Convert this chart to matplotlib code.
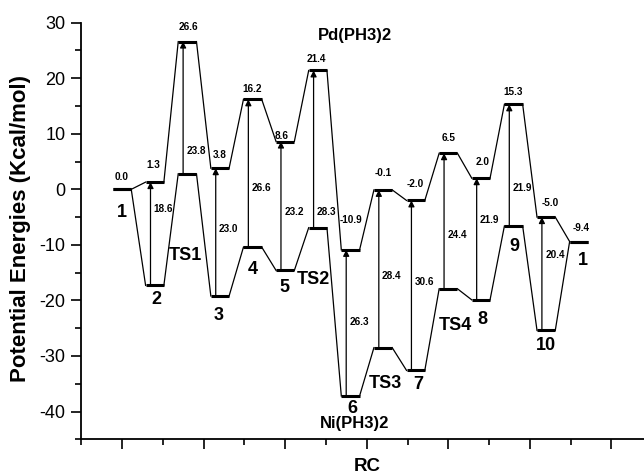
import matplotlib
matplotlib.use("Agg")
import matplotlib.pyplot as plt
from matplotlib.ticker import MultipleLocator

# energies (kcal/mol) of each stationary point, Pd path on top, Ni path below
pd_energy = [0.0, 1.3, 26.6, 3.8, 16.2, 8.6, 21.4, -10.9, -0.1, -2.0, 6.5, 2.0, 15.3, -5.0, -9.4]
ni_energy = [0.0, -17.3, 2.8, -19.2, -10.4, -14.6, -6.9, -37.2, -28.5, -32.6, -17.9, -19.9, -6.6, -25.4, -9.4]
species = ["1", "2", "TS1", "3", "4", "5", "TS2", "6", "TS3", "7", "TS4", "8", "9", "10", "1"]
gap_text = ["18.6", "23.8", "23.0", "26.6", "23.2", "28.3", "26.3", "28.4", "30.6", "24.4", "21.9", "21.9", "20.4"]
pd_text = ["0.0", "1.3", "26.6", "3.8", "16.2", "8.6", "21.4", "-10.9", "-0.1", "-2.0", "6.5", "2.0", "15.3", "-5.0", "-9.4"]

# label placement (layout only)
pd_text_x = [0.0, 0.94, 2.02, 2.98, 3.98, 4.9, 5.97, 7.0, 8.0, 9.0, 10.0, 11.05, 12.0, 13.13, 14.07]
pd_text_y = [2.3, 4.3, 29.2, 6.1, 18.0, 9.6, 23.5, -5.5, 2.9, 0.9, 9.2, 4.9, 17.5, -2.5, -7.0]
gap_text_y = [-3.5, 6.9, -7.1, 0.3, -4.0, -4.0, -23.9, -15.6, -16.6, -8.3, -5.5, 0.3, -11.9]
name_x = [-0.01, 1.04, 1.93, 2.96, 4.01, 4.98, 5.87, 7.06, 8.07, 9.08, 10.21, 11.06, 12.03, 13.0, 14.13]
name_y = [-4.2, -19.8, -11.9, -22.8, -14.4, -17.7, -16.2, -39.4, -34.9, -35.2, -24.5, -23.4, -10.3, -28.2, -12.9]

plt.rcParams['font.family'] = ['Liberation Sans', 'DejaVu Sans']
plt.rcParams['axes.unicode_minus'] = False

fig = plt.figure(figsize=(6.44, 4.76), dpi=100)
ax = fig.add_axes([0.1253, 0.0771, 0.8747, 0.8752])

hw = 0.28
xs = list(range(len(pd_energy)))

for path in (pd_energy, ni_energy):
    for i, e in enumerate(path):
        ax.plot([xs[i] - hw, xs[i] + hw], [e, e], color="k", lw=2.2, solid_capstyle="butt")
        if i + 1 < len(path):
            ax.plot([xs[i] + hw, xs[i + 1] - hw], [e, path[i + 1]], color="k", lw=0.9)

# vertical arrows Ni -> Pd
for k, txt in enumerate(gap_text):
    i = k + 1
    xa = xs[i] - 0.13
    ax.annotate("", xy=(xa, pd_energy[i]), xytext=(xa, ni_energy[i]),
                arrowprops=dict(arrowstyle="-|>", color="k", lw=0.9,
                                mutation_scale=9, shrinkA=0, shrinkB=0))
    ax.text(xa + 0.1, gap_text_y[k], txt, fontsize=7.2, fontweight="bold",
            ha="left", va="center")

for i, txt in enumerate(pd_text):
    ax.text(pd_text_x[i], pd_text_y[i], txt, fontsize=7.2, fontweight="bold",
            ha="center", va="center")

for i, s in enumerate(species):
    ax.text(name_x[i], name_y[i], s, fontsize=13, fontweight="bold",
            ha="center", va="center")

ax.text(7.15, 27.7, "Pd(PH3)2", fontsize=12, fontweight="bold", ha="center", va="center")
ax.text(7.12, -42.2, "Ni(PH3)2", fontsize=12, fontweight="bold", ha="center", va="center")

ax.set_xlim(-1.27, 16.0)
ax.set_ylim(-45, 30)
ax.xaxis.set_major_locator(MultipleLocator(2.5))
ax.xaxis.set_minor_locator(MultipleLocator(1.25))
ax.yaxis.set_major_locator(MultipleLocator(10))
ax.yaxis.set_minor_locator(MultipleLocator(5))
ax.tick_params(axis="both", which="major", direction="out", length=7.5, width=1.2, labelsize=13)
ax.tick_params(axis="both", which="minor", direction="out", length=4, width=1.2)
ax.tick_params(axis="x", labelbottom=False)
for side in ("top", "right"):
    ax.spines[side].set_visible(False)
for side in ("left", "bottom"):
    ax.spines[side].set_linewidth(1.3)

ax.set_xlabel("RC", fontsize=13.5, fontweight="bold")
ax.xaxis.set_label_coords(0.508, -0.045)
ax.set_ylabel("Potential Energies (Kcal/mol)", fontsize=16, fontweight="bold")
ax.yaxis.set_label_coords(-0.089, 0.506)

fig.savefig("out.png", dpi=100)
